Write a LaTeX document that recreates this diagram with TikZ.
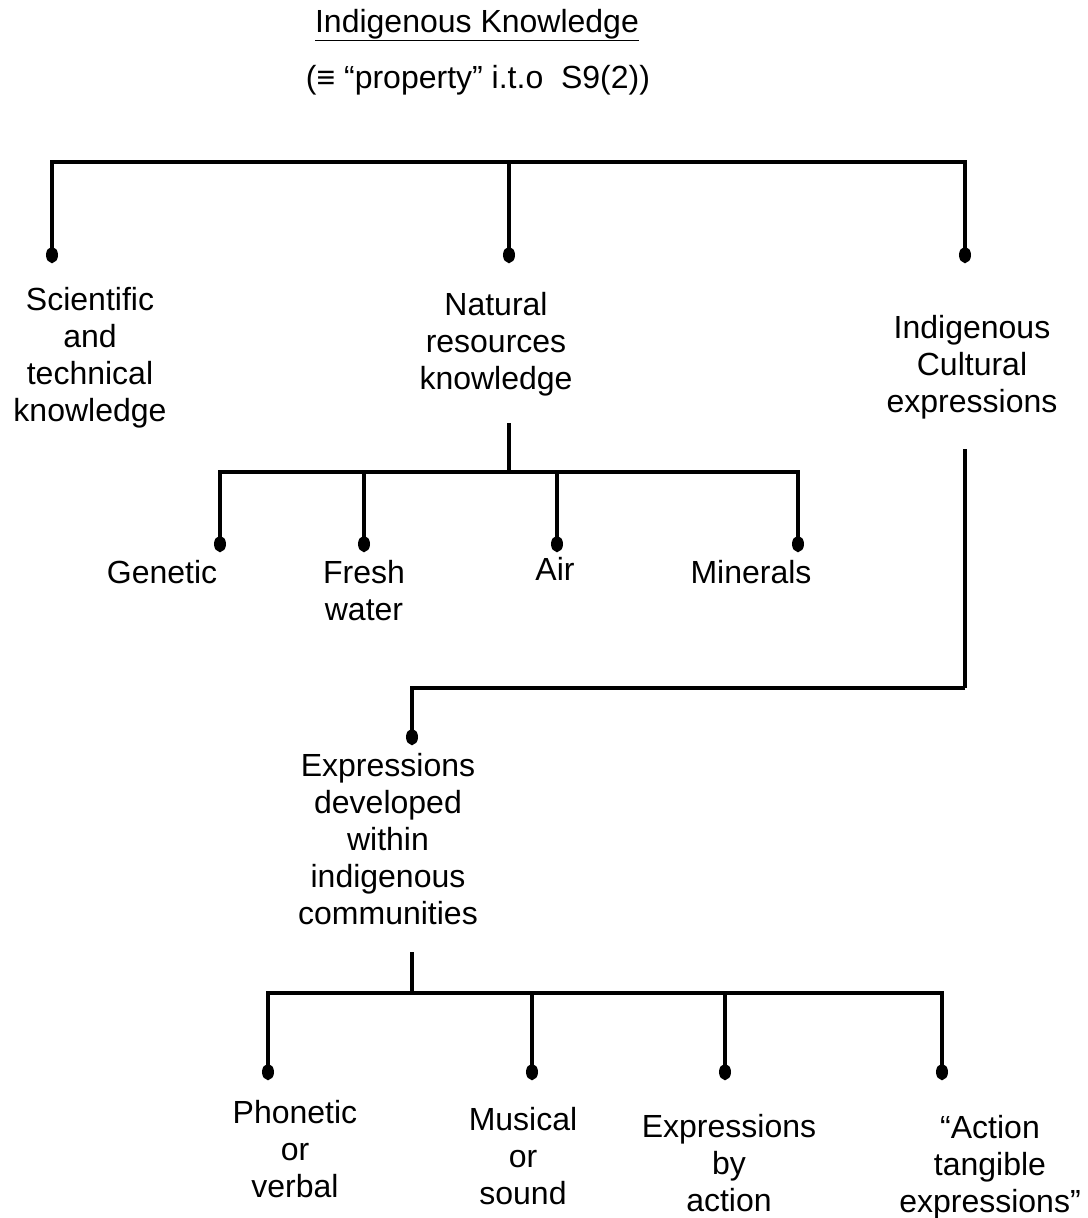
\documentclass[tikz,border=0pt]{standalone}
\usepackage{fontspec}
\setmainfont{Liberation Sans}
\usetikzlibrary{arrows.meta}
\begin{document}
\begin{tikzpicture}[x=0.75pt,y=-0.75pt,
  lbl/.style={anchor=base, align=center, inner sep=0pt,
    font=\fontsize{24}{27.75}\selectfont},
  tree/.style={line width=3pt, black},
  dotend/.style={tree, -{Circle[length=12pt,width=9pt]}}]
\useasboundingbox (0,0) rectangle (1088,1218);

% titles (base = baseline of last line)
\node[lbl] (title) at (477,32) {\underline{Indigenous Knowledge}};
\node[lbl] (sub) at (478,88) {(≡ “property” i.t.o~~S9(2))};

% level 1
\coordinate (t0) at (509,162);
\coordinate (d1) at (52,263);
\coordinate (d2) at (509,263);
\coordinate (d3) at (965,263);
\draw[dotend] (t0) -| (d1);
\draw[dotend] (t0) -- (d2);
\draw[dotend] (t0) -| (d3);

\node[lbl] (sci) at (90,421) {Scientific\\and\\technical\\knowledge};
\node[lbl] (nat) at (496,389) {Natural\\resources\\knowledge};
\node[lbl] (ice) at (972,412) {Indigenous\\Cultural\\expressions};

% natural resources branch
\coordinate (n0) at (509,423);
\coordinate (n1) at (509,472);
\coordinate (g1) at (220,552);
\coordinate (g2) at (364,552);
\coordinate (g3) at (557,552);
\coordinate (g4) at (798,552);
\draw[tree] (n0) -- (n1);
\draw[dotend] (n1) -| (g1);
\draw[dotend] (n1) -| (g2);
\draw[dotend] (n1) -| (g3);
\draw[dotend] (n1) -| (g4);

\node[lbl] (gen) at (162,583) {Genetic};
\node[lbl] (fw) at (364,620) {Fresh\\water};
\node[lbl] (air) at (555,580) {Air};
\node[lbl] (min) at (751,583) {Minerals};

% cultural expressions branch
\coordinate (c0) at (965,449);
\coordinate (c1) at (965,688);
\coordinate (c2) at (412,745);
\draw[tree] (c0) -- (c1);
\draw[dotend] (c1) -| (c2);

\node[lbl] (edw) at (388,924) {Expressions\\developed\\within\\indigenous\\communities};

% expressions branch
\coordinate (e0) at (412,952);
\coordinate (e1) at (412,993);
\coordinate (h1) at (268,1080);
\coordinate (h2) at (532,1080);
\coordinate (h3) at (725,1080);
\coordinate (h4) at (942,1080);
\draw[tree] (e0) -- (e1);
\draw[dotend] (e1) -| (h1);
\draw[dotend] (e1) -| (h2);
\draw[dotend] (e1) -| (h3);
\draw[dotend] (e1) -| (h4);

\node[lbl] (pv) at (295,1197) {Phonetic\\or\\verbal};
\node[lbl] (ms) at (523,1204) {Musical\\or\\sound};
\node[lbl] (eba) at (729,1211) {Expressions\\by\\action};
\node[lbl] (atx) at (990,1212) {“Action\\tangible\\expressions”};
\end{tikzpicture}
\end{document}
